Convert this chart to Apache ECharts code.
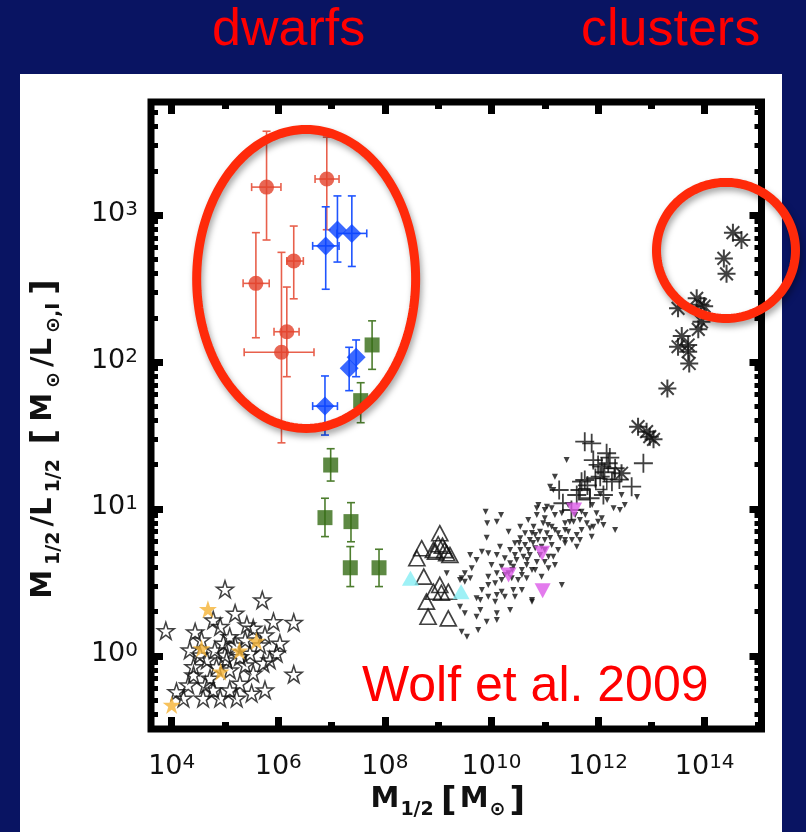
<!DOCTYPE html>
<html>
<head>
<meta charset="utf-8">
<script src="https://cdn.jsdelivr.net/npm/echarts@6/dist/echarts.min.js"></script>
<style>
  html, body { margin: 0; padding: 0; background: #091462; }
  #chart { width: 806px; height: 832px; }
</style>
</head>
<body>
<div id="chart"></div>
<script>
// everything is in log10 units: x = log M1/2 [Msun], y = log M1/2/L1/2
const xRange = [3.612, 15.066]
const yRange = [-0.497, 3.769]
const xMajor = [4, 6, 8, 10, 12, 14]
const xMinor = [5, 7, 9, 11, 13, 15]
const yMajor = [0, 1, 2, 3]

// rows: [logM, logML, logM lo, logM hi, logML lo, logML hi]
const redDwarfs = [
  [5.78, 3.19, 5.50, 6.05, 2.83, 3.57],
  [6.91, 3.245, 6.69, 7.14, 2.90, 3.53],
  [6.29, 2.687, 6.16, 6.47, 2.43, 2.925],
  [5.58, 2.535, 5.34, 5.83, 2.165, 2.88],
  [6.16, 2.206, 5.92, 6.39, 1.90, 2.51],
  [6.06, 2.066, 5.36, 6.67, 1.45, 2.746]
]
const blueDwarfs = [
  [6.89, 2.79, 6.645, 7.14, 2.495, 3.056],
  [7.11, 2.898, 7.11, 7.11, 2.68, 3.13],
  [7.38, 2.875, 7.10, 7.66, 2.65, 3.13],
  [7.46, 2.032, 7.46, 7.46, 1.90, 2.15],
  [7.33, 1.957, 7.33, 7.33, 1.805, 2.10],
  [6.876, 1.70, 6.645, 7.11, 1.503, 1.905]
]
const greenSats = [
  [7.76, 2.116, 7.76, 7.76, 1.95, 2.28],
  [7.546, 1.737, 7.546, 7.546, 1.587, 1.859],
  [6.983, 1.299, 6.983, 6.983, 1.19, 1.41],
  [6.876, 0.941, 6.876, 6.876, 0.812, 1.073],
  [7.364, 0.914, 7.364, 7.364, 0.777, 1.043],
  [7.351, 0.60, 7.351, 7.351, 0.472, 0.744],
  [7.89, 0.60, 7.89, 7.89, 0.472, 0.726]
]
const globulars = [
  [5.0, 0.454], [5.70, 0.381], [5.19, 0.29], [3.89, 0.172], [4.78, 0.245], [5.91, 0.233],
  [6.29, 0.227], [5.41, 0.211], [6.29, -0.125], [4.09, -0.243], [4.22, -0.288], [4.59, -0.288],
  [4.91, -0.288], [5.22, -0.288], [5.50, -0.254], [5.28, -0.186], [4.41, -0.073], [4.41, -0.129],
  [4.72, -0.152], [5.72, -0.05], [5.97, 0.018], [6.03, 0.086], [5.47, 0.018], [4.97, 0.086],
  [5.09, 0.131], [5.53, 0.188], [4.56, 0.109], [4.84, -0.073], [5.03, -0.027], [4.66, -0.027],
  [5.84, -0.027], [4.91, 0.2], [5.28, -0.005], [5.09, -0.095], [4.78, -0.231], [5.53, -0.118],
  [5.19, 0.075], [5.38, 0.109], [4.81, 0.041], [5.0, 0.007], [4.53, 0.007], [5.66, 0.075],
  [5.75, 0.143], [4.34, 0.041], [5.38, -0.061], [5.75, -0.231], [4.63, -0.197], [5.09, -0.231],
  [4.31, -0.197], [4.44, 0.163]
]
const globularsHighlight = [
  [4.68, 0.318], [4.56, 0.052], [5.27, 0.036], [5.59, 0.102], [4.92, -0.107], [4.0, -0.333]
]
const dE = [
  [9.03, 0.835], [8.69, 0.733], [8.60, 0.665], [8.91, 0.721], [8.95, 0.71], [9.16, 0.699],
  [9.22, 0.687], [9.08, 0.75], [9.00, 0.76], [9.12, 0.72], [8.73, 0.54], [9.03, 0.483],
  [8.91, 0.437], [9.19, 0.437], [8.78, 0.37], [8.81, 0.267], [9.19, 0.256], [9.06, 0.43]
]
const dECyan = [[8.48, 0.528], [9.43, 0.437]]
const ellipticals = [
  [9.89, 0.981], [10.18, 0.959], [9.92, 0.903], [10.10, 0.913], [9.91, 0.805], [10.32, 0.845],
  [10.54, 0.879], [10.69, 0.925], [10.85, 0.959], [10.88, 1.027], [11.00, 0.993], [11.13, 1.005],
  [11.19, 0.959], [11.32, 0.971], [10.97, 0.903], [11.13, 0.879], [11.38, 0.903], [11.54, 0.913],
  [11.69, 0.857], [11.85, 0.869], [11.97, 0.971], [12.07, 0.937], [11.88, 0.811], [11.66, 0.789],
  [11.38, 0.767], [11.25, 0.721], [11.16, 0.675], [11.19, 0.619], [11.07, 0.597], [11.32, 0.483],
  [10.94, 0.539], [10.76, 0.585], [10.66, 0.619], [10.57, 0.585], [10.41, 0.607], [10.32, 0.563],
  [10.19, 0.517], [10.07, 0.495], [9.94, 0.483], [9.82, 0.449], [9.72, 0.393], [9.79, 0.381],
  [9.94, 0.403], [10.10, 0.415], [10.19, 0.437], [10.41, 0.449], [10.25, 0.403], [10.07, 0.369],
  [10.76, 0.381], [10.57, 0.449], [9.60, 0.687], [9.72, 0.653], [9.50, 0.563], [9.41, 0.517],
  [9.60, 0.529], [9.63, 0.597], [9.82, 0.709], [9.94, 0.699], [10.10, 0.687], [10.16, 0.743],
  [10.35, 0.721], [10.44, 0.767], [10.54, 0.801], [10.63, 0.835], [10.72, 0.789], [10.82, 0.823],
  [10.91, 0.845], [11.00, 0.789], [10.94, 0.743], [10.82, 0.733], [10.72, 0.687], [10.60, 0.675],
  [10.47, 0.653], [10.35, 0.631], [10.25, 0.665], [10.19, 0.607], [10.10, 0.563], [10.00, 0.619],
  [9.94, 0.539], [10.38, 0.529], [10.50, 0.517], [10.66, 0.529], [11.07, 0.675], [11.13, 0.755],
  [11.04, 0.835], [10.79, 0.879], [11.25, 0.835], [11.44, 0.845], [11.51, 0.789], [11.60, 0.823],
  [11.79, 0.903], [11.91, 0.879], [11.57, 0.959], [11.69, 0.981], [12.00, 0.913], [12.10, 0.891],
  [11.00, 0.937], [11.44, 1.027], [9.44, 0.529], [9.50, 0.505], [9.41, 0.335], [9.50, 0.291],
  [9.79, 0.313], [9.72, 0.267], [9.91, 0.233], [10.10, 0.245], [9.44, 0.165], [9.54, 0.131],
  [9.75, 0.177], [9.16, 0.563], [11.19, 1.219], [11.41, 1.333], [11.16, 1.129], [11.04, 1.015],
  [10.85, 1.005], [10.76, 0.369], [10.35, 0.313], [10.10, 0.291], [10.44, 0.403], [11.66, 0.925],
  [12.29, 1.005], [12.41, 0.993], [11.60, 0.743], [11.38, 0.789], [11.10, 1.151], [12.44, 1.095],
  [10.63, 0.755], [10.69, 0.721], [10.78, 0.769], [10.87, 0.789], [10.54, 0.721], [10.44, 0.687],
  [10.67, 0.653], [10.91, 0.687], [10.85, 0.639], [11.00, 0.721], [11.10, 0.803], [11.19, 0.857],
  [11.29, 0.803], [11.06, 0.891], [10.76, 0.837], [10.52, 0.769], [10.39, 0.585], [10.25, 0.551],
  [10.57, 0.551], [10.82, 0.585], [11.00, 0.639], [11.38, 0.857], [11.47, 0.911], [11.76, 0.959],
  [11.89, 1.027], [12.17, 1.061], [12.04, 1.102], [12.50, 1.027], [12.73, 1.081], [12.32, 0.857]
]
const ellipticalsMagenta = [[11.55, 0.993], [10.95, 0.699], [10.32, 0.551], [10.96, 0.444]]
const groups = [
  [11.75, 1.458], [11.88, 1.447], [12.85, 1.311], [11.91, 1.333], [12.16, 1.379], [12.19, 1.311],
  [12.07, 1.288], [12.32, 1.277], [12.04, 1.22], [12.26, 1.186], [11.69, 1.186], [11.75, 1.197],
  [12.63, 1.152], [11.27, 1.129], [11.66, 1.129], [11.60, 1.095], [12.10, 1.095], [11.85, 1.073],
  [11.34, 1.039], [11.50, 0.993], [12.00, 1.30], [12.12, 1.25], [11.95, 1.21], [12.22, 1.35],
  [11.80, 1.16], [12.40, 1.20]
]
const groupsSquares = [[12.06, 1.17], [11.74, 1.10], [12.20, 1.24]]
const clusters = [
  [14.53, 2.88], [14.69, 2.83], [14.36, 2.705], [14.41, 2.60], [13.85, 2.433], [13.99, 2.38],
  [13.50, 2.365], [13.94, 2.274], [13.88, 2.222], [13.57, 2.177], [13.69, 2.116], [13.50, 2.104],
  [13.69, 2.07], [13.71, 1.99], [13.30, 1.82], [12.75, 1.56], [12.91, 1.526], [12.97, 1.492],
  [13.04, 1.474], [12.44, 1.243], [13.92, 2.39]
]

// annotation rings: centre and half-widths in log units
const dwarfRing = { center: [6.523, 2.565], half: [2.054, 1.017] }
const clusterRing = { center: [14.40, 2.759], half: [1.304, 0.463] }

const yMinor = []
for (let d = -1; d <= 3; d++) {
  for (let k = 2; k <= 9; k++) {
    const v = d + Math.log10(k)
    if (v > yRange[0] && v < yRange[1]) yMinor.push(v)
  }
}

const FONT = '"Liberation Sans", Arial, sans-serif'
const LFONT = '"DejaVu Sans", sans-serif'
const STAR = 'path://M0,-10L2.25,-3.09L9.51,-3.09L3.63,1.18L5.88,8.09L0,3.82L-5.88,8.09L-3.63,1.18L-9.51,-3.09L-2.25,-3.09Z'
const CROSS = 'path://M0,-10L0,10M-10,0L10,0'
const ASTER = 'path://M0,-10L0,10M-10,0L10,0M-7.07,-7.07L7.07,7.07M-7.07,7.07L7.07,-7.07'

const chart = echarts.init(document.getElementById('chart'))

const tickLabel = {
  fontFamily: LFONT,
  color: '#111',
  formatter: v => `{b|10}{s|${v}}`,
  rich: {
    b: { fontSize: 27, lineHeight: 30, verticalAlign: 'top', fontFamily: LFONT, color: '#111' },
    s: { fontSize: 20, lineHeight: 20, verticalAlign: 'top', fontFamily: LFONT, color: '#111' }
  }
}

const nameStyle = (pad) => ({
  m: { fontSize: 29, lineHeight: 30, fontWeight: 'bold', verticalAlign: 'top', padding: [0, pad, 0, pad], fontFamily: LFONT, color: '#111' },
  s: { fontSize: 19, lineHeight: 19, fontWeight: 'bold', verticalAlign: 'top', padding: [16, pad + 1, 0, pad + 1], fontFamily: LFONT, color: '#111' },
  k: { fontSize: 34, lineHeight: 34, fontWeight: 'bold', verticalAlign: 'top', padding: [0, pad + 3, 0, pad + 3], fontFamily: LFONT, color: '#111' }
})

function axisPair(dim, position, major, minor, withLabels) {
  const range = dim === 'x' ? xRange : yRange
  const base = {
    type: 'value', min: range[0], max: range[1], position,
    axisLine: { show: false, onZero: false }, splitLine: { show: false }
  }
  const main = Object.assign({}, base, {
    axisTick: { inside: true, length: 12, customValues: major, lineStyle: { color: '#000', width: 7 } },
    axisLabel: withLabels
      ? Object.assign({ customValues: major, margin: dim === 'x' ? 24 : 13 }, tickLabel)
      : { show: false }
  })
  const small = Object.assign({}, base, {
    axisTick: { inside: true, length: 7, customValues: minor, lineStyle: { color: '#000', width: dim === 'x' ? 7 : 5 } },
    axisLabel: { show: false }
  })
  return [main, small]
}

const xAxes = [...axisPair('x', 'bottom', xMajor, xMinor, true), ...axisPair('x', 'top', xMajor, xMinor, false)]
const yAxes = [...axisPair('y', 'left', yMajor, yMinor, true), ...axisPair('y', 'right', yMajor, yMinor, false)]

Object.assign(xAxes[0], {
  name: '{m|M}{s|1/2} {k|[}{m|M}{s|⊙}{k|]}',
  nameLocation: 'middle',
  nameGap: 50,
  nameTextStyle: { rich: nameStyle(0), padding: [0, 14, 0, 0] }
})
Object.assign(yAxes[0], {
  name: '{m|M}{s|1/2}{m|/L}{s|1/2}  {k|[}{m|M}{s|⊙}{m|/L}{s|⊙,I}{k|]}',
  nameLocation: 'middle',
  nameRotate: 90,
  nameGap: 88,
  nameTextStyle: { rich: nameStyle(2), padding: [0, 44, 0, 0] }
})

function errorBars(rows, color, cap) {
  return {
    type: 'custom',
    data: rows,
    encode: { x: 0, y: 1 },
    z: 3,
    silent: true,
    renderItem: (params, api) => {
      const x = api.value(0), y = api.value(1)
      const style = { stroke: color, lineWidth: 1.6, fill: null }
      const kids = []
      const seg = (p, q) => kids.push({ type: 'line', shape: { x1: p[0], y1: p[1], x2: q[0], y2: q[1] }, style })
      if (api.value(2) !== api.value(3)) {
        const l = api.coord([api.value(2), y]), r = api.coord([api.value(3), y])
        seg(l, r)
        seg([l[0], l[1] - cap], [l[0], l[1] + cap])
        seg([r[0], r[1] - cap], [r[0], r[1] + cap])
      }
      const lo = api.coord([x, api.value(4)]), hi = api.coord([x, api.value(5)])
      seg(lo, hi)
      seg([lo[0] - cap, lo[1]], [lo[0] + cap, lo[1]])
      seg([hi[0] - cap, hi[1]], [hi[0] + cap, hi[1]])
      return { type: 'group', children: kids }
    }
  }
}

function points(data, symbol, size, itemStyle, extra) {
  return Object.assign({
    type: 'scatter', data, symbol, symbolSize: size, itemStyle,
    z: 4, silent: true, emphasis: { disabled: true }
  }, extra || {})
}

const outline = (w) => ({ color: 'rgba(0,0,0,0)', borderColor: '#111', borderWidth: w })

chart.setOption({
  animation: false,
  backgroundColor: '#091462',
  grid: {
    left: 151, right: 44.5, top: 102, bottom: 103,
    show: true, borderColor: '#000', borderWidth: 7, backgroundColor: 'rgba(0,0,0,0)',
    outerBoundsMode: 'none'
  },
  xAxis: xAxes,
  yAxis: yAxes,
  series: [
    points(globulars, STAR, 17, outline(1.5)),
    points(globularsHighlight, STAR, 18, { color: '#f5b335' }),
    errorBars(greenSats, '#4d7d2e', 4),
    points(greenSats, 'rect', 15, { color: '#346b14' }),
    errorBars(redDwarfs, '#e8604c', 4),
    points(redDwarfs, 'circle', 15, { color: '#e2412b' }),
    errorBars(blueDwarfs, '#1f55ff', 4),
    points(blueDwarfs, 'diamond', 19, { color: '#0a43ff' }),
    points(dE, 'triangle', [16, 15], outline(1.7)),
    points(dECyan, 'triangle', [17, 15], { color: '#86eef4' }),
    points(ellipticals, 'triangle', 6, { color: '#111' }, { symbolRotate: 180 }),
    points(groups, CROSS, 19, outline(1.8)),
    points(groupsSquares, 'rect', 11, outline(1.5)),
    points(clusters, ASTER, 18, outline(2)),
    points(ellipticalsMagenta, 'triangle', [16, 15], { color: '#dc5ae8' }, { symbolRotate: 180 })
  ]
})

function ringPoints(ring) {
  const c = chart.convertToPixel({ gridIndex: 0 }, ring.center)
  const e = chart.convertToPixel({ gridIndex: 0 }, [ring.center[0] + ring.half[0], ring.center[1] + ring.half[1]])
  const rx = e[0] - c[0], ry = c[1] - e[1]
  const pts = []
  for (let i = 0; i < 160; i++) {
    const a = i / 160 * Math.PI * 2
    pts.push([c[0] + rx * Math.cos(a), c[1] + ry * Math.sin(a)])
  }
  return pts
}

const ringStyle = {
  fill: 'none', stroke: '#ff2a0a', lineWidth: 9,
  shadowBlur: 6, shadowColor: 'rgba(0,0,0,0.35)', shadowOffsetX: 2, shadowOffsetY: 4
}
const redText = (text, x, y, size) => ({
  type: 'text', x, y, silent: true, z: 10,
  style: { text, fill: '#ff0000', font: `${size}px ${FONT}`, textAlign: 'left', verticalAlign: 'middle' }
})

chart.setOption({
  graphic: [
    { type: 'rect', z: -10, silent: true, shape: { x: 20, y: 74, width: 762, height: 758 }, style: { fill: '#fff' } },
    redText('dwarfs', 212, 31, 52),
    redText('clusters', 581, 31, 52),
    redText('Wolf et al. 2009', 362, 687, 50),
    { type: 'polygon', z: 20, silent: true, shape: { points: ringPoints(dwarfRing) }, style: ringStyle },
    { type: 'polygon', z: 20, silent: true, shape: { points: ringPoints(clusterRing) }, style: ringStyle }
  ]
})

window.addEventListener('resize', () => chart.resize())
</script>
</body>
</html>
